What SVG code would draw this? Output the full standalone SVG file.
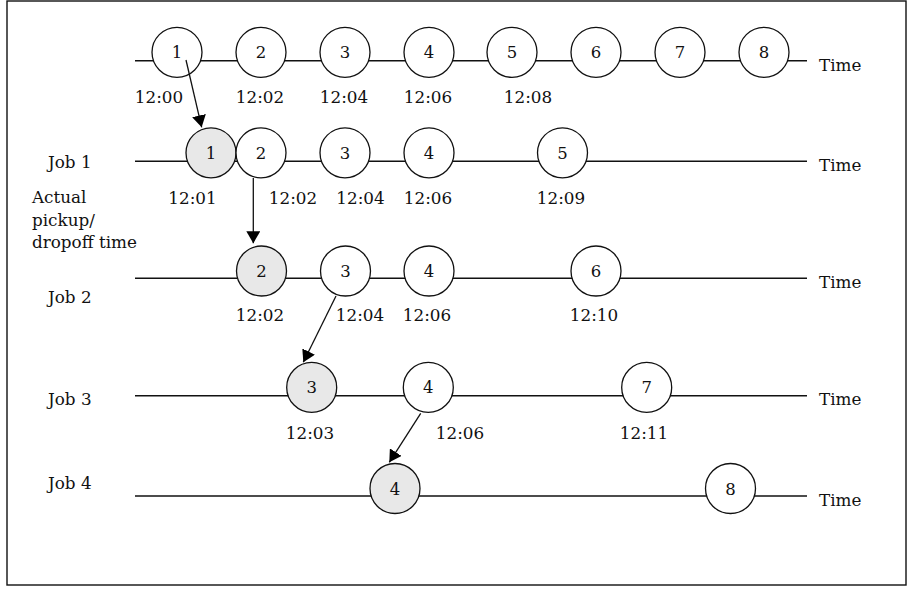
<svg xmlns="http://www.w3.org/2000/svg" width="912" height="590" viewBox="0 0 912 590">
  <style>
    text { font-family: "DejaVu Serif", "Liberation Serif", serif; fill: #111; }
    .lbl { font-size: 16.8px; }
    .num { font-size: 16.5px; text-anchor: middle; }
    .t { text-anchor: middle; }
    .axis { stroke: #111; stroke-width: 1.4; fill: none; }
    .stop { fill: #fff; stroke: #111; stroke-width: 1.3; }
    .done { fill: #e8e8e8; stroke: #111; stroke-width: 1.3; }
    .link { stroke: #111; stroke-width: 1.3; fill: none; marker-end: url(#head); }
  </style>
  <defs>
    <marker id="head" viewBox="0 0 12 14" refX="12" refY="7" markerWidth="12" markerHeight="14" markerUnits="userSpaceOnUse" orient="auto">
      <path d="M0,0 L12,7 L0,14 z" fill="#000"/>
    </marker>
  </defs>

  <rect x="7" y="1" width="899" height="584" fill="#fff" stroke="#111" stroke-width="1.4"/>

  <!-- time axes -->
  <g id="axes">
    <line class="axis" x1="135" y1="60.7" x2="807" y2="60.7"/>
    <line class="axis" x1="135" y1="161.3" x2="807" y2="161.3"/>
    <line class="axis" x1="135" y1="278.3" x2="807" y2="278.3"/>
    <line class="axis" x1="135" y1="395.7" x2="807" y2="395.7"/>
    <line class="axis" x1="135" y1="496" x2="807" y2="496"/>
    <text class="lbl" x="819" y="71">Time</text>
    <text class="lbl" x="819" y="171">Time</text>
    <text class="lbl" x="819" y="288">Time</text>
    <text class="lbl" x="819" y="405">Time</text>
    <text class="lbl" x="819" y="506">Time</text>
  </g>

  <!-- row labels -->
  <g id="row-labels">
    <text class="lbl" x="48" y="168">Job 1</text>
    <text class="lbl" x="32" y="203">Actual</text>
    <text class="lbl" x="32" y="226">pickup/</text>
    <text class="lbl" x="32" y="248">dropoff time</text>
    <text class="lbl" x="48" y="303">Job 2</text>
    <text class="lbl" x="48" y="405">Job 3</text>
    <text class="lbl" x="48" y="489">Job 4</text>
  </g>

  <!-- schedule row -->
  <g id="sched-1"><circle class="stop" cx="177" cy="52.3" r="25"/><text class="num" x="177" y="58.3">1</text></g>
  <g id="sched-2"><circle class="stop" cx="261" cy="52.3" r="25"/><text class="num" x="261" y="58.3">2</text></g>
  <g id="sched-3"><circle class="stop" cx="345" cy="52.3" r="25"/><text class="num" x="345" y="58.3">3</text></g>
  <g id="sched-4"><circle class="stop" cx="429" cy="52.3" r="25"/><text class="num" x="429" y="58.3">4</text></g>
  <g id="sched-5"><circle class="stop" cx="512" cy="52.3" r="25"/><text class="num" x="512" y="58.3">5</text></g>
  <g id="sched-6"><circle class="stop" cx="596" cy="52.3" r="25"/><text class="num" x="596" y="58.3">6</text></g>
  <g id="sched-7"><circle class="stop" cx="680" cy="52.3" r="25"/><text class="num" x="680" y="58.3">7</text></g>
  <g id="sched-8"><circle class="stop" cx="764" cy="52.3" r="25"/><text class="num" x="764" y="58.3">8</text></g>
  <g id="sched-times" class="lbl">
    <text class="t" x="159" y="103">12:00</text>
    <text class="t" x="260" y="103">12:02</text>
    <text class="t" x="344" y="103">12:04</text>
    <text class="t" x="428" y="103">12:06</text>
    <text class="t" x="528" y="103">12:08</text>
  </g>

  <!-- job 1 -->
  <g id="job1-1"><circle class="done" cx="211" cy="152.8" r="25"/><text class="num" x="211" y="158.8">1</text></g>
  <g id="job1-2"><circle class="stop" cx="261" cy="152.8" r="25"/><text class="num" x="261" y="158.8">2</text></g>
  <g id="job1-3"><circle class="stop" cx="345" cy="152.8" r="25"/><text class="num" x="345" y="158.8">3</text></g>
  <g id="job1-4"><circle class="stop" cx="429" cy="152.8" r="25"/><text class="num" x="429" y="158.8">4</text></g>
  <g id="job1-5"><circle class="stop" cx="562.5" cy="152.8" r="25"/><text class="num" x="562.5" y="158.8">5</text></g>
  <g id="job1-times" class="lbl">
    <text class="t" x="192.5" y="204">12:01</text>
    <text class="t" x="293" y="204">12:02</text>
    <text class="t" x="360.5" y="204">12:04</text>
    <text class="t" x="428" y="204">12:06</text>
    <text class="t" x="561" y="204">12:09</text>
  </g>

  <!-- job 2 -->
  <g id="job2-2"><circle class="done" cx="261.5" cy="271" r="25"/><text class="num" x="261.5" y="277">2</text></g>
  <g id="job2-3"><circle class="stop" cx="345.5" cy="271" r="25"/><text class="num" x="345.5" y="277">3</text></g>
  <g id="job2-4"><circle class="stop" cx="429" cy="271" r="25"/><text class="num" x="429" y="277">4</text></g>
  <g id="job2-6"><circle class="stop" cx="596" cy="271" r="25"/><text class="num" x="596" y="277">6</text></g>
  <g id="job2-times" class="lbl">
    <text class="t" x="260" y="321">12:02</text>
    <text class="t" x="360" y="321">12:04</text>
    <text class="t" x="427" y="321">12:06</text>
    <text class="t" x="594" y="321">12:10</text>
  </g>

  <!-- job 3 -->
  <g id="job3-3"><circle class="done" cx="311.7" cy="387.4" r="25"/><text class="num" x="311.7" y="393.4">3</text></g>
  <g id="job3-4"><circle class="stop" cx="428.3" cy="387.4" r="25"/><text class="num" x="428.3" y="393.4">4</text></g>
  <g id="job3-7"><circle class="stop" cx="646.7" cy="387.4" r="25"/><text class="num" x="646.7" y="393.4">7</text></g>
  <g id="job3-times" class="lbl">
    <text class="t" x="310" y="439">12:03</text>
    <text class="t" x="460" y="439">12:06</text>
    <text class="t" x="644" y="439">12:11</text>
  </g>

  <!-- job 4 -->
  <g id="job4-4"><circle class="done" cx="395" cy="488.5" r="25"/><text class="num" x="395" y="494.5">4</text></g>
  <g id="job4-8"><circle class="stop" cx="730.5" cy="488.5" r="25"/><text class="num" x="730.5" y="494.5">8</text></g>

  <!-- hand-off arrows -->
  <g id="connectors">
    <line class="link" x1="186" y1="60" x2="201.7" y2="127.3"/>
    <line class="link" x1="253.3" y1="178" x2="253.3" y2="243.3"/>
    <line class="link" x1="336" y1="296" x2="303.3" y2="362.3"/>
    <line class="link" x1="420.7" y1="413.3" x2="389.3" y2="462.3"/>
  </g>
</svg>
